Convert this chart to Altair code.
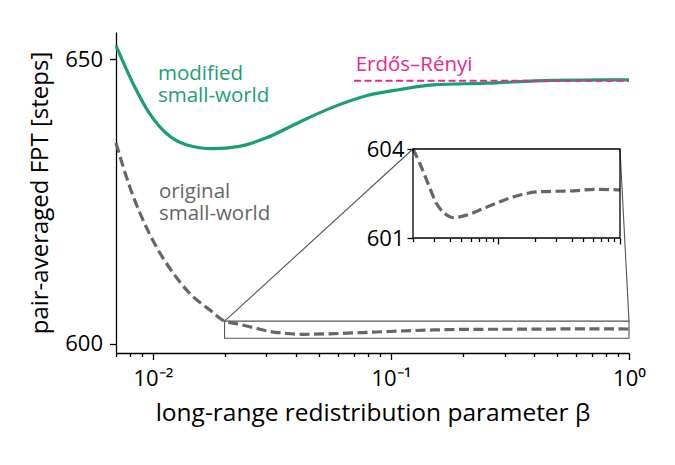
import altair as alt
import pandas as pd

# ---- data -------------------------------------------------------------
beta_modified = [0.007, 0.00824, 0.00968, 0.01138, 0.0138, 0.01786, 0.0231,
                 0.030, 0.0414, 0.0571, 0.0789, 0.109, 0.150, 0.252, 0.479, 1.0]
fpt_modified = [652.4, 645.8, 640.5, 637.0, 635.0, 634.3, 634.7,
                636.2, 639.0, 641.6, 643.6, 644.7, 645.5, 645.8, 646.3, 646.4]

beta_original = [0.007, 0.00798, 0.00908, 0.01033, 0.01214, 0.01426, 0.0173,
                 0.02, 0.0227, 0.0265, 0.0311, 0.0364, 0.0427, 0.055, 0.0753,
                 0.103, 0.151, 0.220, 0.414, 0.61, 1.0]
fpt_original = [635.3, 627.7, 621.8, 617.1, 612.5, 608.9, 606.0,
                604.0, 603.52, 602.85, 602.17, 601.83, 601.69, 601.77, 601.99,
                602.22, 602.45, 602.56, 602.59, 602.64, 602.62]

er_beta = [0.07, 1.0]
er_fpt = [646.25, 646.25]

x_major = [0.01, 0.1, 1.0]
x_minor = [0.007, 0.008, 0.009, 0.02, 0.03, 0.04, 0.05, 0.06, 0.07, 0.08, 0.09,
           0.2, 0.3, 0.4, 0.5, 0.6, 0.7, 0.8, 0.9]
y_ticks = [600, 650]

zoom_beta = [0.02, 1.0]
zoom_fpt = [601, 604]
inset_major = [0.1, 1.0]
inset_minor = [0.02, 0.03, 0.04, 0.05, 0.06, 0.07, 0.08, 0.09,
               0.2, 0.3, 0.4, 0.5, 0.6, 0.7, 0.8, 0.9]

labels = ["modified\nsmall-world", "original\nsmall-world", "Erdős–Rényi"]
label_beta = [0.0105, 0.0106, 0.0711]
label_fpt = [646.4, 625.7, 647.9]

# ---- style / layout ---------------------------------------------------
FONT = "Open Sans"
GREEN = "#1b9e77"
GRAY = "#666666"
PINK = "#e7298a"
BOX = "#555555"

W, H = 513, 321
# inset panel placement inside the main plot area (pixels)
IN_L, IN_R, IN_T, IN_B = 297, 504, 117, 206

modified = pd.DataFrame({"beta": beta_modified, "fpt": fpt_modified})
original = pd.DataFrame({"beta": beta_original, "fpt": fpt_original})
er = pd.DataFrame({"beta": er_beta, "fpt": er_fpt})
zoom_box = pd.DataFrame({"b1": [zoom_beta[0]], "b2": [zoom_beta[1]],
                         "f1": [zoom_fpt[0]], "f2": [zoom_fpt[1]]})
lab = pd.DataFrame({"beta": label_beta, "fpt": label_fpt, "text": labels})

xs = alt.Scale(type="log", domain=[0.007, 1.0], nice=False)
ys = alt.Scale(domain=[598.4, 654.8], nice=False, zero=False)

x_axis_major = alt.Axis(
    orient="bottom", values=x_major, tickSize=6.5, labelFlush=False,
    labelOverlap=False, labelBaseline="alphabetic", labelPadding=26,
    labelFontSize=22,
    labelExpr="datum.value < 0.05 ? '10⁻²' : (datum.value < 0.5 ? '10⁻¹' : '10⁰')",
    title="long-range redistribution parameter β", titleBaseline="alphabetic",
    titleY=67, titleFontSize=24.5,
)
x_axis_minor = alt.Axis(orient="bottom", values=x_minor, tickSize=3.5,
                        labels=False, domain=False, title=None)
y_axis = alt.Axis(orient="left", values=y_ticks, tickSize=6.5, labelPadding=7,
                  labelFlush=False, labelOverlap=False, labelFontSize=22,
                  labelBaseline="middle",
                  title="pair-averaged FPT [steps]", titleFontSize=24,
                  titleAngle=-90, titleAlign="center", titleBaseline="middle",
                  titleX=-76, titleY=H / 2)

green = alt.Chart(modified).mark_line(
    color=GREEN, strokeWidth=3.2, interpolate="monotone"
).encode(
    x=alt.X("beta:Q", scale=xs, axis=x_axis_major),
    y=alt.Y("fpt:Q", scale=ys, axis=y_axis),
)

gray = alt.Chart(original).mark_line(
    color=GRAY, strokeWidth=3.2, strokeDash=[10, 4.5], interpolate="monotone"
).encode(
    x=alt.X("beta:Q", scale=xs, axis=x_axis_minor),
    y=alt.Y("fpt:Q", scale=ys, axis=None),
)

erdos = alt.Chart(er).mark_line(color=PINK, strokeWidth=2, strokeDash=[7, 3.5]).encode(
    x=alt.X("beta:Q", scale=xs, axis=None),
    y=alt.Y("fpt:Q", scale=ys, axis=None),
)

box = alt.Chart(zoom_box).mark_rect(fill="transparent", stroke=BOX, strokeWidth=1.1).encode(
    x=alt.X("b1:Q", scale=xs, axis=None), x2="b2:Q",
    y=alt.Y("f1:Q", scale=ys, axis=None), y2="f2:Q",
)

conn_left = alt.Chart(zoom_box).mark_rule(color=BOX, strokeWidth=1.1).encode(
    x=alt.X("b1:Q", scale=xs, axis=None), y=alt.Y("f2:Q", scale=ys, axis=None),
    x2=alt.value(IN_L), y2=alt.value(IN_T),
)
conn_right = alt.Chart(zoom_box).mark_rule(color=BOX, strokeWidth=1.1).encode(
    x=alt.X("b2:Q", scale=xs, axis=None), y=alt.Y("f2:Q", scale=ys, axis=None),
    x2=alt.value(IN_R), y2=alt.value(IN_T),
)


def label_layer(i, color):
    return alt.Chart(lab.iloc[[i]]).mark_text(
        align="left", baseline="alphabetic", font=FONT, fontSize=20.5,
        lineHeight=22, lineBreak="\n", color=color,
    ).encode(
        x=alt.X("beta:Q", scale=xs, axis=None),
        y=alt.Y("fpt:Q", scale=ys, axis=None),
        text="text:N",
    )


main = alt.layer(
    box, conn_left, conn_right, green, gray, erdos,
    label_layer(0, GREEN), label_layer(1, GRAY), label_layer(2, PINK),
).resolve_axis(x="independent", y="independent")

# ---- inset ------------------------------------------------------------
xi = alt.Scale(type="log", domain=zoom_beta, nice=False, range=[IN_L, IN_R])
yi = alt.Scale(domain=zoom_fpt, nice=False, zero=False, range=[IN_B, IN_T])

inset_line = alt.Chart(original).transform_filter(
    alt.datum.beta >= zoom_beta[0]
).mark_line(
    color=GRAY, strokeWidth=3.2, strokeDash=[10, 4.5], interpolate="monotone"
).encode(
    x=alt.X("beta:Q", scale=xi,
            axis=alt.Axis(orient="bottom", offset=IN_B - H, values=inset_major,
                          tickSize=6, labels=False, domain=False, title=None)),
    y=alt.Y("fpt:Q", scale=yi,
            axis=alt.Axis(orient="left", offset=-IN_L, values=zoom_fpt,
                          tickSize=6, labelPadding=3, labelFlush=False,
                          labelOverlap=False, labelFontSize=22,
                          labelBaseline="middle", domain=False, title=None)),
)

inset_frame = alt.Chart(zoom_box).mark_rect(
    fill="transparent", stroke="black", strokeWidth=1.3
).encode(
    x=alt.X("b1:Q", scale=xi,
            axis=alt.Axis(orient="bottom", offset=IN_B - H, values=inset_minor,
                          tickSize=3.5, labels=False, domain=False, title=None)),
    x2="b2:Q",
    y=alt.Y("f1:Q", scale=yi, axis=None), y2="f2:Q",
)

inset = alt.layer(inset_line, inset_frame).resolve_axis(x="independent", y="independent")

chart = alt.layer(main, inset).resolve_scale(
    x="independent", y="independent"
).properties(
    width=W, height=H,
    autosize="none",
    padding={"left": 116, "top": 32, "right": 675 - 116 - W, "bottom": 465 - 32 - H},
).configure_view(stroke=None).configure_axis(
    domainColor="black", domainWidth=1.3, tickColor="black", tickWidth=1.3,
    labelFont=FONT, labelFontSize=20, labelColor="black",
    titleFont=FONT, titleFontWeight="normal", titleColor="black", grid=False,
)

chart.save("out.html", embed_options={"renderer": "svg", "actions": False})
